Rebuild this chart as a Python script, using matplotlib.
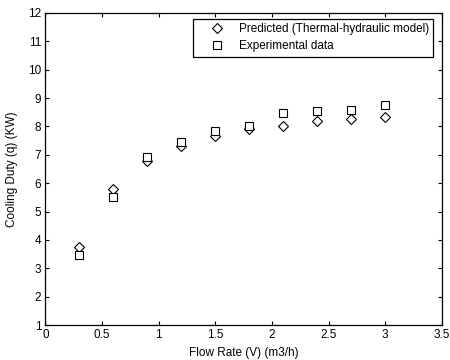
import matplotlib
matplotlib.use("Agg")
import matplotlib.pyplot as plt

plt.rcParams['font.family'] = ['Liberation Sans', 'DejaVu Sans']

flow = [0.3, 0.6, 0.9, 1.2, 1.5, 1.8, 2.1, 2.4, 2.7, 3.0]
predicted = [3.75, 5.8, 6.78, 7.3, 7.65, 7.9, 8.02, 8.18, 8.27, 8.33]
experimental = [3.48, 5.52, 6.92, 7.45, 7.83, 8.03, 8.48, 8.55, 8.58, 8.74]

fig = plt.figure(figsize=(4.5, 3.6), dpi=100)
ax = fig.add_axes([0.101, 0.097, 0.881, 0.867])

ax.plot(flow, predicted, linestyle='none', marker='D', markersize=4.6,
        markerfacecolor='white', markeredgecolor='black', markeredgewidth=0.8,
        label='Predicted (Thermal-hydraulic model)')
ax.plot(flow, experimental, linestyle='none', marker='s', markersize=5.2,
        markerfacecolor='white', markeredgecolor='black', markeredgewidth=0.8,
        label='Experimental data')

ax.set_xlim(0, 3.5)
ax.set_ylim(1, 12)
ax.set_xticks([0, 0.5, 1, 1.5, 2, 2.5, 3, 3.5])
ax.set_xticklabels(['0', '0.5', '1', '1.5', '2', '2.5', '3', '3.5'])
ax.set_yticks(range(1, 13))
ax.tick_params(direction='in', top=True, right=True, labelsize=8.5, length=3, width=0.8, pad=3)
for s in ax.spines.values():
    s.set_linewidth(0.9)

ax.set_xlabel('Flow Rate (V) (m3/h)', fontsize=8.5, labelpad=4)
ax.set_ylabel('Cooling Duty (q) (KW)', fontsize=8.5, labelpad=7)

leg = ax.legend(loc='upper right', bbox_to_anchor=(433 / 450, 1 - 19 / 360),
                bbox_transform=fig.transFigure, borderaxespad=0,
                fontsize=8.5, fancybox=False, edgecolor='black', framealpha=1,
                handlelength=3.4, handletextpad=0.15, labelspacing=0.45, borderpad=0.35)
leg.get_frame().set_linewidth(0.9)

fig.savefig('out.png', dpi=100)
